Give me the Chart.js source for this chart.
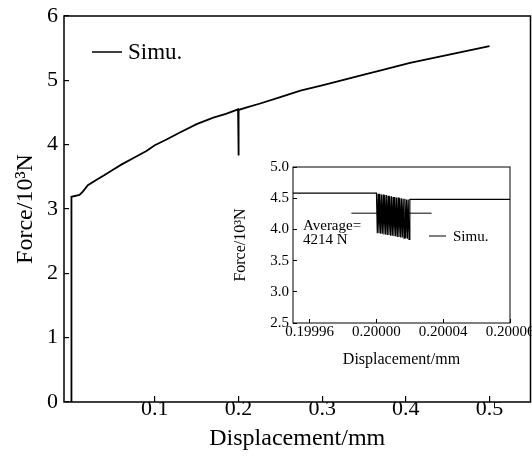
<!DOCTYPE html>
<html>
<head>
<meta charset="utf-8">
<script src="https://cdn.jsdelivr.net/npm/chart.js@4"></script>
<style>
  body { margin: 0; background: #fff; }
  #wrap { position: relative; width: 532px; height: 459px; }
  #main { position: absolute; left: 0; top: 0; }
  #inset { position: absolute; left: 226px; top: 155px; }
</style>
</head>
<body>
<div id="wrap">
  <canvas id="main" width="532" height="459"></canvas>
  <canvas id="inset" width="306" height="220"></canvas>
</div>
<script>
// Main curve: displacement (mm) vs force (10^3 N)
const mainDisp = [0, 0.0004, 0.010, 0.014, 0.020, 0.030, 0.040, 0.050, 0.060, 0.074,
  0.090, 0.100, 0.114, 0.130, 0.150, 0.170, 0.185, 0.1995, 0.2000, 0.2000,
  0.2005, 0.210, 0.226, 0.250, 0.274, 0.300, 0.321, 0.350, 0.369, 0.405, 0.449, 0.500];
const mainForce = [0, 3.19, 3.22, 3.27, 3.37, 3.45, 3.53, 3.61, 3.69, 3.79,
  3.90, 3.99, 4.08, 4.19, 4.32, 4.42, 4.48, 4.55, 4.55, 3.83,
  4.54, 4.58, 4.64, 4.74, 4.84, 4.92, 4.99, 5.09, 5.15, 5.27, 5.39, 5.53];
const mainXTicks = [0.1, 0.2, 0.3, 0.4, 0.5];
const mainYTicks = [0, 1, 2, 3, 4, 5, 6];

// Inset: zoom around 0.2 mm, force oscillates just after 0.20000
const insetDisp = [0.19995, 0.2000000,
  0.2000005, 0.2000010, 0.2000015, 0.2000020, 0.2000025, 0.2000030, 0.2000035, 0.2000040,
  0.2000045, 0.2000050, 0.2000055, 0.2000060, 0.2000065, 0.2000070, 0.2000075, 0.2000080,
  0.2000085, 0.2000090, 0.2000095, 0.2000100, 0.2000105, 0.2000110, 0.2000115, 0.2000120,
  0.2000125, 0.2000130, 0.2000135, 0.2000140, 0.2000145, 0.2000150, 0.2000155, 0.2000160,
  0.2000165, 0.2000170, 0.2000175, 0.2000180, 0.2000185, 0.2000190, 0.2000195, 0.2000200,
  0.20008];
const insetForce = [4.58, 4.58,
  3.94, 4.57, 3.94, 4.57, 3.93, 4.56, 3.93, 4.56,
  3.92, 4.55, 3.92, 4.55, 3.91, 4.54, 3.91, 4.53,
  3.90, 4.53, 3.90, 4.52, 3.89, 4.52, 3.89, 4.51,
  3.88, 4.51, 3.88, 4.50, 3.87, 4.50, 3.87, 4.49,
  3.86, 4.49, 3.86, 4.48, 3.85, 4.48, 3.84, 4.48,
  4.48];
const avgDisp = [0.199985, 0.200033];
const avgForce = [4.26, 4.26];
const averageText = ['Average=', '4214 N'];
const insetXTicks = [0.19996, 0.20000, 0.20004, 0.20008];
const insetXLabels = ['0.19996', '0.20000', '0.20004', '0.20006'];
const insetYTicks = [2.5, 3.0, 3.5, 4.0, 4.5, 5.0];

const serif = 'Liberation Serif, Times New Roman, serif';

function points(xs, ys) {
  return xs.map((x, i) => ({ x: x, y: ys[i] }));
}

// fixed axis sizes, no extra room for overhanging labels
function fixX(h) {
  return s => { s.height = h; s.paddingLeft = 0; s.paddingRight = 0; };
}
function fixY(w) {
  return s => { s.width = w; s.paddingTop = 0; s.paddingBottom = 0; };
}

// box round the plot area
const framePlugin = {
  id: 'frame',
  afterDraw(chart, args, opts) {
    const a = chart.chartArea, ctx = chart.ctx;
    ctx.save();
    ctx.strokeStyle = '#000';
    ctx.lineWidth = opts.width || 1;
    ctx.strokeRect(a.left, a.top, a.right - a.left, a.bottom - a.top);
    ctx.restore();
  }
};

// simple line + label legend inside the plot
const lineLegend = {
  id: 'lineLegend',
  afterDraw(chart, args, opts) {
    const a = chart.chartArea, ctx = chart.ctx;
    const x = a.left + opts.dx, y = a.top + opts.dy;
    ctx.save();
    ctx.strokeStyle = '#000';
    ctx.lineWidth = opts.lineWidth;
    ctx.beginPath();
    ctx.moveTo(x, y);
    ctx.lineTo(x + opts.len, y);
    ctx.stroke();
    ctx.fillStyle = '#000';
    ctx.font = opts.size + 'px ' + serif;
    ctx.textBaseline = 'middle';
    ctx.fillText(chart.data.datasets[0].label, x + opts.len + opts.gap, y + 1);
    if (opts.note) {
      ctx.textBaseline = 'alphabetic';
      opts.note.forEach((t, i) => ctx.fillText(t, a.left + opts.noteDx, a.top + opts.noteDy + i * 14));
    }
    ctx.restore();
  }
};

new Chart(document.getElementById('main'), {
  type: 'scatter',
  data: {
    datasets: [{
      label: 'Simu.',
      data: points(mainDisp, mainForce),
      showLine: true,
      borderColor: '#000',
      borderWidth: 1.8,
      pointRadius: 0,
      tension: 0
    }]
  },
  options: {
    responsive: false,
    animation: false,
    layout: { padding: { top: 16, right: 1.5, left: 0, bottom: 0 } },
    plugins: {
      legend: { display: false },
      tooltip: { enabled: false },
      frame: { width: 1.5 },
      lineLegend: { dx: 28, dy: 36, len: 30, gap: 6, size: 23, lineWidth: 1.5 }
    },
    scales: {
      x: {
        type: 'linear',
        min: -0.0085,
        max: 0.549,
        afterBuildTicks: s => { s.ticks = mainXTicks.map(v => ({ value: v })); },
        afterFit: fixX(57),
        grid: { drawOnChartArea: false, drawTicks: true, tickLength: -6, color: '#000', lineWidth: 1.2 },
        border: { display: false },
        ticks: { color: '#000', padding: 0, maxRotation: 0, font: { family: serif, size: 22 } },
        title: { display: true, text: 'Displacement/mm', color: '#000', padding: { top: 0, bottom: 5.6 },
                 font: { family: serif, size: 24 } }
      },
      y: {
        type: 'linear',
        min: 0,
        max: 6,
        afterBuildTicks: s => { s.ticks = mainYTicks.map(v => ({ value: v })); },
        afterFit: fixY(64),
        grid: { drawOnChartArea: false, drawTicks: true, tickLength: -5, color: '#000', lineWidth: 1.2 },
        border: { display: false },
        ticks: { color: '#000', padding: 11, font: { family: serif, size: 22 } },
        title: { display: true, text: 'Force/10³N', color: '#000', padding: { top: 11.6, bottom: 0 },
                 font: { family: serif, size: 24 } }
      }
    }
  },
  plugins: [framePlugin, lineLegend]
});

new Chart(document.getElementById('inset'), {
  type: 'scatter',
  data: {
    datasets: [{
      label: 'Simu.',
      data: points(insetDisp, insetForce),
      showLine: true,
      borderColor: '#000',
      borderWidth: 1.2,
      pointRadius: 0,
      tension: 0
    }, {
      label: 'Average',
      data: points(avgDisp, avgForce),
      showLine: true,
      borderColor: '#000',
      borderWidth: 1,
      pointRadius: 0,
      tension: 0
    }]
  },
  options: {
    responsive: false,
    animation: false,
    layout: { padding: { top: 12, right: 22, left: 0, bottom: 0 } },
    plugins: {
      legend: { display: false },
      tooltip: { enabled: false },
      frame: { width: 1 },
      lineLegend: { dx: 136, dy: 69, len: 17, gap: 7, size: 15, lineWidth: 1,
                    note: averageText, noteDx: 10, noteDy: 63 }
    },
    scales: {
      x: {
        type: 'linear',
        min: 0.19995,
        max: 0.20008,
        afterBuildTicks: s => { s.ticks = insetXTicks.map(v => ({ value: v })); },
        afterFit: fixX(52),
        grid: { drawOnChartArea: false, drawTicks: true, tickLength: -4, color: '#000', lineWidth: 1 },
        border: { display: false },
        ticks: { color: '#000', padding: 4, maxRotation: 0, autoSkip: false,
                 font: { family: serif, size: 15 },
                 callback: (v, i) => insetXLabels[i] },
        title: { display: true, text: 'Displacement/mm', color: '#000', padding: { top: 0, bottom: 5.4 },
                 font: { family: serif, size: 16 } }
      },
      y: {
        type: 'linear',
        min: 2.5,
        max: 5.0,
        afterBuildTicks: s => { s.ticks = insetYTicks.map(v => ({ value: v })); },
        afterFit: fixY(67),
        grid: { drawOnChartArea: false, drawTicks: true, tickLength: -4, color: '#000', lineWidth: 1 },
        border: { display: false },
        ticks: { color: '#000', padding: 8, font: { family: serif, size: 15 },
                 callback: v => v.toFixed(1) },
        title: { display: true, text: 'Force/10³N', color: '#000', padding: { top: 5.4, bottom: 0 },
                 font: { family: serif, size: 16 } }
      }
    }
  },
  plugins: [framePlugin, lineLegend]
});
</script>
</body>
</html>
